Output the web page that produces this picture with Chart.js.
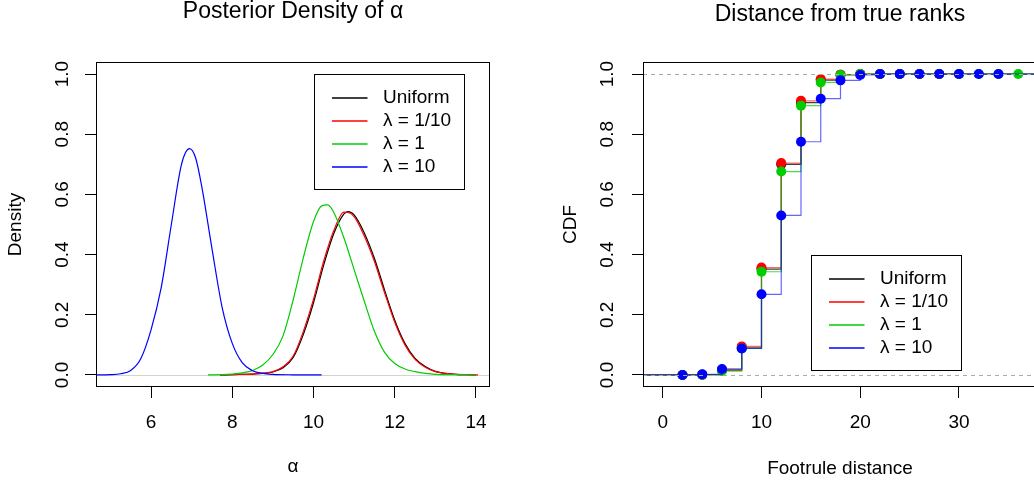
<!DOCTYPE html>
<html>
<head>
<meta charset="utf-8">
<script src="https://cdn.jsdelivr.net/npm/chart.js@4.4.1/dist/chart.umd.min.js"></script>
<style>
  html, body { margin: 0; padding: 0; background: #fff; overflow: hidden; }
  body { width: 1034px; height: 483px; position: relative; }
  canvas { position: absolute; top: 0; }
  #densityChart { left: 0; width: 517px; height: 483px; }
  #cdfChart { left: 517px; width: 530px; height: 483px; }
</style>
</head>
<body>
<canvas id="densityChart" width="517" height="483"></canvas>
<canvas id="cdfChart" width="530" height="483"></canvas>
<script>
Chart.defaults.font.family = '"Liberation Sans", Arial, Helvetica, sans-serif';
Chart.defaults.font.size = 19;
Chart.defaults.color = '#000';

const seriesLabels = ['Uniform', 'λ = 1/10', 'λ = 1', 'λ = 10'];
const seriesColors = ['#000000', '#ff0000', '#00cd00', '#0000ff'];
const stepColors = ['rgba(0,0,0,0.75)', 'rgba(255,0,0,0.6)', 'rgba(0,205,0,0.7)', 'rgba(0,0,255,0.6)'];

// left panel: posterior density of alpha
const uniformAlpha = [7.7, 8.0, 8.25, 8.5, 8.75, 9.0, 9.25, 9.5, 9.75, 10.0, 10.25, 10.5, 10.75, 10.85, 11.0, 11.25, 11.5, 11.75, 12.0, 12.25, 12.5, 12.75, 13.0, 13.25, 13.5, 13.75, 14.0];
const uniformDensity = [0, 0.001, 0.002, 0.003, 0.005, 0.01, 0.024, 0.058, 0.135, 0.24, 0.365, 0.47, 0.535, 0.543, 0.532, 0.472, 0.387, 0.282, 0.182, 0.105, 0.055, 0.028, 0.012, 0.005, 0.002, 0.001, 0];
const lambda01Alpha = [7.7, 8.0, 8.25, 8.5, 8.75, 9.0, 9.25, 9.5, 9.75, 10.0, 10.25, 10.5, 10.75, 10.85, 11.0, 11.25, 11.5, 11.75, 12.0, 12.25, 12.5, 12.75, 13.0, 13.25, 13.5, 13.75, 14.05];
const lambda01Density = [0, 0.001, 0.002, 0.003, 0.006, 0.011, 0.027, 0.063, 0.145, 0.252, 0.378, 0.48, 0.541, 0.54, 0.526, 0.462, 0.377, 0.273, 0.175, 0.1, 0.052, 0.026, 0.011, 0.005, 0.002, 0.001, 0];
const lambda1Alpha = [7.4, 7.75, 8.0, 8.25, 8.5, 8.75, 9.0, 9.25, 9.5, 9.75, 10.0, 10.2, 10.35, 10.5, 10.75, 11.0, 11.25, 11.5, 11.75, 12.0, 12.25, 12.5, 12.75, 13.0, 13.5, 14.0];
const lambda1Density = [0, 0.001, 0.003, 0.007, 0.015, 0.033, 0.068, 0.13, 0.25, 0.39, 0.51, 0.562, 0.565, 0.54, 0.455, 0.35, 0.245, 0.145, 0.075, 0.038, 0.02, 0.011, 0.005, 0.002, 0.001, 0];
const lambda10Alpha = [4.6, 5.0, 5.25, 5.5, 5.75, 6.0, 6.25, 6.5, 6.75, 6.95, 7.1, 7.25, 7.5, 7.75, 8.0, 8.25, 8.5, 8.75, 9.0, 9.5, 10.2];
const lambda10Density = [0, 0.001, 0.004, 0.015, 0.055, 0.15, 0.29, 0.5, 0.7, 0.752, 0.72, 0.625, 0.42, 0.225, 0.105, 0.04, 0.014, 0.005, 0.002, 0.0005, 0];

// right panel: ECDF of footrule distance
const uniformKnots = [2, 4, 6, 8, 10, 12, 14, 16, 18, 20, 22, 24, 26, 28, 30];
const uniformCdf = [0, 0.001, 0.016, 0.09, 0.352, 0.7, 0.905, 0.98, 0.998, 1, 1, 1, 1, 1, 1];
const lambda01Knots = [2, 4, 6, 8, 10, 12, 14, 16, 18, 20, 22, 24, 26, 28];
const lambda01Cdf = [0, 0.001, 0.017, 0.095, 0.357, 0.704, 0.911, 0.983, 0.998, 1, 1, 1, 1, 1];
const lambda1Knots = [2, 4, 6, 8, 10, 12, 14, 16, 18, 20, 22, 24, 26, 28, 30, 32, 34, 36];
const lambda1Cdf = [0, 0.001, 0.013, 0.088, 0.343, 0.676, 0.895, 0.972, 0.997, 1, 1, 1, 1, 1, 1, 1, 1, 1];
const lambda10Knots = [2, 4, 6, 8, 10, 12, 14, 16, 18, 20, 22, 24, 26, 28, 30, 32, 34];
const lambda10Cdf = [0, 0.002, 0.02, 0.088, 0.268, 0.53, 0.775, 0.918, 0.979, 0.997, 1, 1, 1, 1, 1, 1, 1];

const alphaTicks = [6, 8, 10, 12, 14];
const footruleTicks = [0, 10, 20, 30];
const probTicks = [0, 0.2, 0.4, 0.6, 0.8, 1.0];

const ALPHA_MIN = 4.645, ALPHA_MAX = 14.345;
const FOOT_MIN = -2, FOOT_MAX = 37.9;
const PROB_MIN = -0.04, PROB_MAX = 1.04;

function zip(xs, ys) {
    return xs.map((x, i) => ({ x: x, y: ys[i] }));
}

// ecdf runs flat from the left edge to the first knot and past the last one
function ecdfPoints(knots, cdf) {
    const pts = zip(knots, cdf);
    pts.unshift({ x: FOOT_MIN, y: 0, edge: true });
    pts.push({ x: FOOT_MAX, y: cdf[cdf.length - 1], edge: true });
    return pts;
}

const boxFrame = {
    id: 'boxFrame',
    afterDatasetsDraw(chart) {
        const { ctx, chartArea: a } = chart;
        ctx.save();
        ctx.strokeStyle = '#000';
        ctx.lineWidth = 1;
        ctx.strokeRect(Math.round(a.left) + 0.5, Math.round(a.top) + 0.5,
            Math.round(a.right - a.left) - 1, Math.round(a.bottom - a.top) - 1);
        ctx.restore();
    }
};

function drawRefLines(chart, lines) {
    const { ctx, chartArea: a, scales } = chart;
    ctx.save();
    ctx.lineWidth = 1;
    lines.forEach(l => {
        const py = Math.round(scales.y.getPixelForValue(l.y)) + 0.5;
        ctx.strokeStyle = l.color;
        ctx.setLineDash(l.dash);
        ctx.beginPath();
        ctx.moveTo(a.left, py);
        ctx.lineTo(a.right, py);
        ctx.stroke();
    });
    ctx.restore();
}

// zero line of the density plot sits under the curves, the ecdf abline on top
const refLines = {
    id: 'refLines',
    beforeDatasetsDraw(chart, args, opts) {
        if (!opts.onTop) drawRefLines(chart, opts.lines);
    },
    afterDatasetsDraw(chart, args, opts) {
        if (opts.onTop) drawRefLines(chart, opts.lines);
    }
};

const boxLegend = {
    id: 'boxLegend',
    afterDatasetsDraw(chart, args, opts) {
        const { ctx, scales } = chart;
        const left = Math.round(scales.x.getPixelForValue(opts.at[0])) + 0.5;
        const top = Math.round(scales.y.getPixelForValue(opts.at[1])) + 0.5;
        ctx.save();
        ctx.fillStyle = '#fff';
        ctx.fillRect(left, top, 150, 115);
        ctx.strokeStyle = '#000';
        ctx.lineWidth = 1;
        ctx.strokeRect(left, top, 150, 115);
        ctx.font = '19px "Liberation Sans", Arial, sans-serif';
        ctx.textBaseline = 'middle';
        ctx.textAlign = 'left';
        seriesLabels.forEach((label, i) => {
            const rowY = Math.round(top + 23 + i * 23.2);
            ctx.strokeStyle = seriesColors[i];
            ctx.lineWidth = 1.5;
            ctx.beginPath();
            ctx.moveTo(left + 17.5, rowY);
            ctx.lineTo(left + 53, rowY);
            ctx.stroke();
            ctx.fillStyle = '#000';
            ctx.fillText(label, left + 68.5, rowY);
        });
        ctx.restore();
    }
};

// hidden top axis only used to centre the main title over the plot box
function titleAxis(text, padTop) {
    return {
        type: 'linear', position: 'top', min: 0, max: 1,
        ticks: { display: false },
        grid: { display: false },
        border: { display: false },
        title: { display: true, text: text, font: { size: 23, lineHeight: 1 }, padding: { top: padTop, bottom: 0 } },
        afterFit: s => { s.height = 62; }
    };
}

function xScale(min, max, ticks, title, titlePad) {
    return {
        type: 'linear', position: 'bottom', min: min, max: max,
        afterBuildTicks: s => { s.ticks = ticks.map(value => ({ value })); },
        afterFit: s => { s.height = 96; },
        grid: { drawOnChartArea: false, tickLength: 11, color: '#000', tickColor: '#000' },
        border: { display: false },
        ticks: { padding: 13.6, color: '#000' },
        title: { display: true, text: title, padding: { top: 0, bottom: titlePad } }
    };
}

function yScale(title, tickPad, titlePad, width) {
    return {
        type: 'linear', position: 'left', min: PROB_MIN, max: PROB_MAX,
        afterBuildTicks: s => { s.ticks = probTicks.map(value => ({ value })); },
        afterFit: s => { s.width = width; },
        grid: { drawOnChartArea: false, tickLength: 11, color: '#000', tickColor: '#000' },
        border: { display: false },
        ticks: {
            minRotation: 90, maxRotation: 90, crossAlign: 'center', padding: tickPad, color: '#000',
            callback: v => v.toFixed(1)
        },
        title: { display: true, text: title, padding: { top: titlePad, bottom: 0 } }
    };
}

const densitySeries = [
    [uniformAlpha, uniformDensity],
    [lambda01Alpha, lambda01Density],
    [lambda1Alpha, lambda1Density],
    [lambda10Alpha, lambda10Density]
];

new Chart(document.getElementById('densityChart'), {
    type: 'line',
    data: {
        datasets: densitySeries.map(([xs, ys], i) => ({
            label: seriesLabels[i],
            data: zip(xs, ys),
            xAxisID: 'x',
            yAxisID: 'y',
            borderColor: seriesColors[i],
            borderWidth: 1.2,
            pointRadius: 0,
            cubicInterpolationMode: 'monotone',
            order: 3 - i
        }))
    },
    options: {
        responsive: false,
        animation: false,
        events: [],
        layout: { padding: { left: 0, right: 27, top: 0, bottom: 0 } },
        plugins: {
            legend: { display: false },
            tooltip: { enabled: false },
            refLines: { onTop: false, lines: [{ y: 0, color: '#d3d3d3', dash: [] }] },
            boxLegend: { at: [10, 1.0] }
        },
        scales: {
            x: xScale(ALPHA_MIN, ALPHA_MAX, alphaTicks, 'α', 5),
            y: yScale('Density', 8.8, 4.1, 96),
            titleAxis: titleAxis('Posterior Density of α', 0)
        }
    },
    plugins: [refLines, boxFrame, boxLegend]
});

const cdfSeries = [
    [uniformKnots, uniformCdf],
    [lambda01Knots, lambda01Cdf],
    [lambda1Knots, lambda1Cdf],
    [lambda10Knots, lambda10Cdf]
];

new Chart(document.getElementById('cdfChart'), {
    type: 'line',
    data: {
        datasets: cdfSeries.map(([knots, cdf], i) => ({
            label: seriesLabels[i],
            data: ecdfPoints(knots, cdf),
            xAxisID: 'x',
            yAxisID: 'y',
            borderColor: stepColors[i],
            borderWidth: 1.2,
            stepped: true,
            pointRadius: c => (c.raw && c.raw.edge ? 0 : 5),
            pointBackgroundColor: seriesColors[i],
            pointBorderWidth: 0,
            order: 3 - i
        }))
    },
    options: {
        responsive: false,
        animation: false,
        events: [],
        layout: { padding: { left: 0, right: 10, top: 0, bottom: 0 } },
        plugins: {
            legend: { display: false },
            tooltip: { enabled: false },
            refLines: { onTop: true, lines: [
                { y: 0, color: '#aaaaaa', dash: [4, 4] },
                { y: 1, color: '#aaaaaa', dash: [4, 4] }
            ] },
            boxLegend: { at: [15, 0.4] }
        },
        scales: {
            x: xScale(FOOT_MIN, FOOT_MAX, footruleTicks, 'Footrule distance', 3.3),
            y: yScale('CDF', 10.8, 42, 126),
            titleAxis: titleAxis('Distance from true ranks', 3.5)
        }
    },
    plugins: [refLines, boxFrame, boxLegend]
});
</script>
</body>
</html>
